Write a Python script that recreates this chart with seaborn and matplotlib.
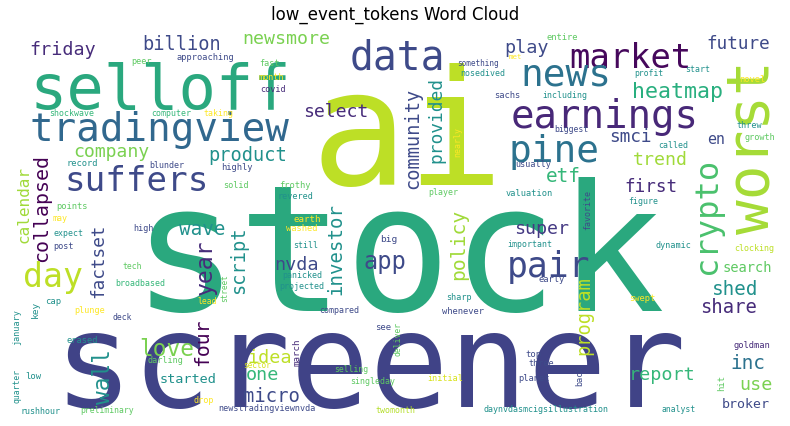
import matplotlib
matplotlib.use("Agg")
import matplotlib.pyplot as plt
import seaborn as sns

# ==========================================
# DATA
# ==========================================

title = "low_event_tokens Word Cloud"

words = [
    "stock", "screener", "ai", "selloff", "tradingview", "data", "market",
    "news", "earnings", "pine", "suffers", "heatmap", "pair", "worst",
    "crypto", "friday", "billion", "newsmore", "peer", "approaching", "fast",
    "month", "covid", "shockwave", "computer", "taking", "select", "company",
    "product", "calendar", "collapsed", "record", "blunder", "highly", "solid",
    "frothy", "revered", "points", "may", "earth", "investor", "play",
    "future", "entire", "something", "met", "nosedived", "profit", "start",
    "novel", "sachs", "including", "threw", "smci", "en", "growth", "nearly",
    "biggest", "called", "trend", "usually", "etf", "first", "community",
    "provided", "player", "valuation", "favorite", "figure", "policy", "super",
    "app", "important", "dynamic", "clocking", "search", "early", "program",
    "shed", "share", "sharp", "swept", "whenever", "deliver", "goldman", "inc",
    "top", "three", "report", "back", "use", "initial", "planet", "hit",
    "broker", "daynvdasmcigsillustration", "analyst", "twomonth", "singleday",
    "day", "expect", "post", "high", "washed", "still", "big", "factset",
    "wave", "script", "nvda", "four", "year", "tech", "panicked", "broadbased",
    "projected", "street", "cap", "lead", "key", "plunge", "compared", "deck",
    "january", "see", "erased", "love", "idea", "wall", "march", "darling",
    "sector", "selling", "one", "started", "quarter", "low", "micro", "drop",
    "rushhour", "preliminary", "newstradingviewnvda",
]

# (x centre, y centre, ink length, rotated, colour) in output pixels
layout = [
    (398, 262, 583, 0, "#2aa87e"), (370, 370, 705, 0, "#404387"),
    (407, 140, 195, 0, "#bddf26"), (160, 92, 290, 0, "#2aa87e"),
    (159, 130, 292, 0, "#31688e"), (397, 58, 103, 0, "#3e4a89"),
    (630, 58, 135, 0, "#46085c"), (566, 75, 98, 0, "#2c728e"),
    (605, 117, 210, 0, "#482878"), (554, 152, 98, 0, "#2c728e"),
    (137, 182, 160, 0, "#3e4a89"), (678, 92, 101, 0, "#29af7f"),
    (548, 267, 90, 0, "#3e4a89"), (752, 147, 190, 1, "#a5db36"),
    (708, 216, 128, 1, "#4ac16d"), (63, 50, 73, 0, "#472c7a"),
    (182, 45, 87, 0, "#3e4a89"), (286, 39, 98, 0, "#7ad151"),
    (141, 62, 22, 0, "#5ec962"), (205, 57, 64, 0, "#3e4a89"),
    (269, 63, 22, 0, "#5ec962"), (271, 77, 28, 0, "#fde725"),
    (273, 90, 28, 0, "#472c7a"), (72, 114, 50, 0, "#35b779"),
    (171, 113, 44, 0, "#35b779"), (218, 114, 33, 0, "#fde725"),
    (336, 112, 72, 0, "#472c7a"), (111, 152, 85, 0, "#7ad151"),
    (248, 156, 87, 0, "#21918c"), (24, 205, 86, 1, "#a0da39"),
    (42, 208, 120, 1, "#440154"), (82, 164, 35, 0, "#21918c"),
    (167, 166, 39, 0, "#3e4a89"), (237, 168, 35, 0, "#3e4a89"),
    (236, 186, 28, 0, "#5ec962"), (295, 186, 35, 0, "#5ec962"),
    (295, 197, 40, 0, "#21918c"), (72, 207, 35, 0, "#5ec962"),
    (60, 219, 16, 0, "#fde725"), (307, 220, 30, 0, "#fde725"),
    (336, 249, 102, 1, "#21918c"), (526, 48, 48, 0, "#3e4a89"),
    (738, 44, 70, 0, "#3e4a89"), (562, 37, 35, 0, "#5ec962"),
    (478, 63, 47, 0, "#3e4a89"), (515, 57, 14, 0, "#fde725"),
    (483, 74, 50, 0, "#21918c"), (649, 73, 32, 0, "#21918c"),
    (698, 69, 27, 0, "#21918c"), (752, 79, 29, 0, "#fde725"),
    (507, 96, 29, 0, "#3e4a89"), (565, 96, 50, 0, "#21918c"),
    (749, 125, 28, 0, "#21918c"), (630, 137, 46, 0, "#3e4a89"),
    (716, 140, 18, 0, "#3e4a89"), (760, 138, 34, 0, "#5ec962"),
    (458, 142, 33, 1, "#fde725"), (571, 130, 38, 0, "#3e4a89"),
    (673, 146, 33, 0, "#21918c"), (660, 160, 60, 0, "#a0da39"),
    (533, 165, 40, 0, "#3e4a89"), (563, 177, 37, 0, "#35b779"),
    (651, 187, 58, 0, "#472c7a"), (413, 138, 113, 1, "#3e4a89"),
    (436, 120, 96, 1, "#21918c"), (443, 193, 33, 0, "#5ec962"),
    (529, 194, 52, 0, "#21918c"), (588, 210, 45, 1, "#3e4a89"),
    (643, 202, 33, 0, "#21918c"), (459, 244, 78, 1, "#a0da39"),
    (542, 229, 60, 0, "#443983"), (385, 262, 45, 0, "#3e4a89"),
    (530, 245, 50, 0, "#21918c"), (673, 246, 40, 0, "#21918c"),
    (754, 249, 45, 0, "#bddf26"), (747, 268, 55, 0, "#5ec962"),
    (552, 280, 29, 0, "#3e4a89"), (584, 316, 87, 1, "#bddf26"),
    (735, 290, 50, 0, "#21918c"), (729, 308, 62, 0, "#472c7a"),
    (459, 298, 28, 0, "#21918c"), (642, 299, 29, 0, "#fde725"),
    (463, 312, 47, 0, "#3e4a89"), (398, 339, 38, 1, "#5ec962"),
    (752, 346, 41, 0, "#472c7a"), (748, 364, 37, 0, "#2c728e"),
    (533, 355, 17, 0, "#3e4a89"), (541, 364, 28, 0, "#3e4a89"),
    (662, 375, 73, 0, "#35b779"), (580, 376, 22, 1, "#3e4a89"),
    (756, 385, 35, 0, "#7ad151"), (445, 379, 40, 0, "#d8e219"),
    (534, 379, 35, 0, "#3e4a89"), (722, 383, 17, 1, "#5ec962"),
    (746, 405, 53, 0, "#3e4a89"), (546, 410, 143, 0, "#21918c"),
    (679, 410, 38, 0, "#21918c"), (395, 411, 44, 0, "#b5de2b"),
    (373, 382, 50, 0, "#5ec962"), (53, 278, 63, 0, "#bddf26"),
    (68, 234, 33, 0, "#21918c"), (64, 247, 22, 0, "#3e4a89"),
    (144, 229, 22, 0, "#3e4a89"), (302, 229, 35, 0, "#fde725"),
    (306, 246, 27, 0, "#21918c"), (389, 240, 18, 0, "#3e4a89"),
    (98, 261, 83, 1, "#3e4a89"), (202, 230, 50, 0, "#21918c"),
    (239, 260, 74, 1, "#21918c"), (296, 265, 48, 0, "#3e4a89"),
    (203, 342, 51, 1, "#440154"), (205, 267, 60, 1, "#472c7a"),
    (132, 267, 21, 0, "#5ec962"), (302, 276, 45, 0, "#21918c"),
    (140, 284, 56, 0, "#35b779"), (302, 287, 51, 0, "#21918c"),
    (225, 288, 31, 1, "#5ec962"), (53, 302, 17, 0, "#21918c"),
    (207, 302, 21, 0, "#fde725"), (35, 309, 18, 1, "#21918c"),
    (90, 311, 34, 0, "#fde725"), (339, 311, 45, 0, "#3e4a89"),
    (122, 318, 21, 0, "#3e4a89"), (17, 327, 40, 1, "#21918c"),
    (383, 328, 17, 0, "#3e4a89"), (82, 341, 35, 0, "#21918c"),
    (167, 350, 59, 0, "#7ad151"), (270, 358, 48, 0, "#bddf26"),
    (103, 377, 59, 1, "#21918c"), (297, 352, 30, 1, "#472c7a"),
    (165, 361, 40, 0, "#5ec962"), (257, 366, 31, 0, "#d8e219"),
    (351, 370, 38, 0, "#5ec962"), (262, 375, 35, 0, "#35b779"),
    (188, 380, 63, 0, "#21918c"), (17, 386, 38, 1, "#21918c"),
    (33, 377, 17, 0, "#21918c"), (271, 397, 62, 0, "#3e4a89"),
    (204, 401, 22, 0, "#fde725"), (40, 412, 45, 0, "#21918c"),
    (107, 411, 61, 0, "#5ec962"), (267, 409, 110, 0, "#3e4a89"),
]

# ==========================================
# SETTINGS
# ==========================================

sns.set_theme(style="white")
plt.rcParams["font.family"] = ["DejaVu Sans"]

W, H, DPI = 790, 427, 100
SHRINK = 0.87  # reference font is wider for its height than DejaVu Mono

fig = plt.figure(figsize=(W / DPI, H / DPI), dpi=DPI)
ax = fig.add_axes([0, 0, 1, 1])
ax.set_xlim(0, W)
ax.set_ylim(H, 0)
ax.axis("off")

# ==========================================
# WORD CLOUD
# ==========================================

for word, (x, y, length, rot, color) in zip(words, layout):
    em_px = SHRINK * length / (0.602 * len(word) - 0.15)
    ax.text(
        x, y, word,
        fontsize=em_px * 72 / DPI,
        family="DejaVu Sans Mono",
        color=color,
        rotation=90 if rot else 0,
        ha="center",
        va="center",
    )

fig.text(0.5, 1 - 15 / H, title, ha="center", va="center", fontsize=12, color="black")

fig.savefig("out.png", dpi=DPI)
